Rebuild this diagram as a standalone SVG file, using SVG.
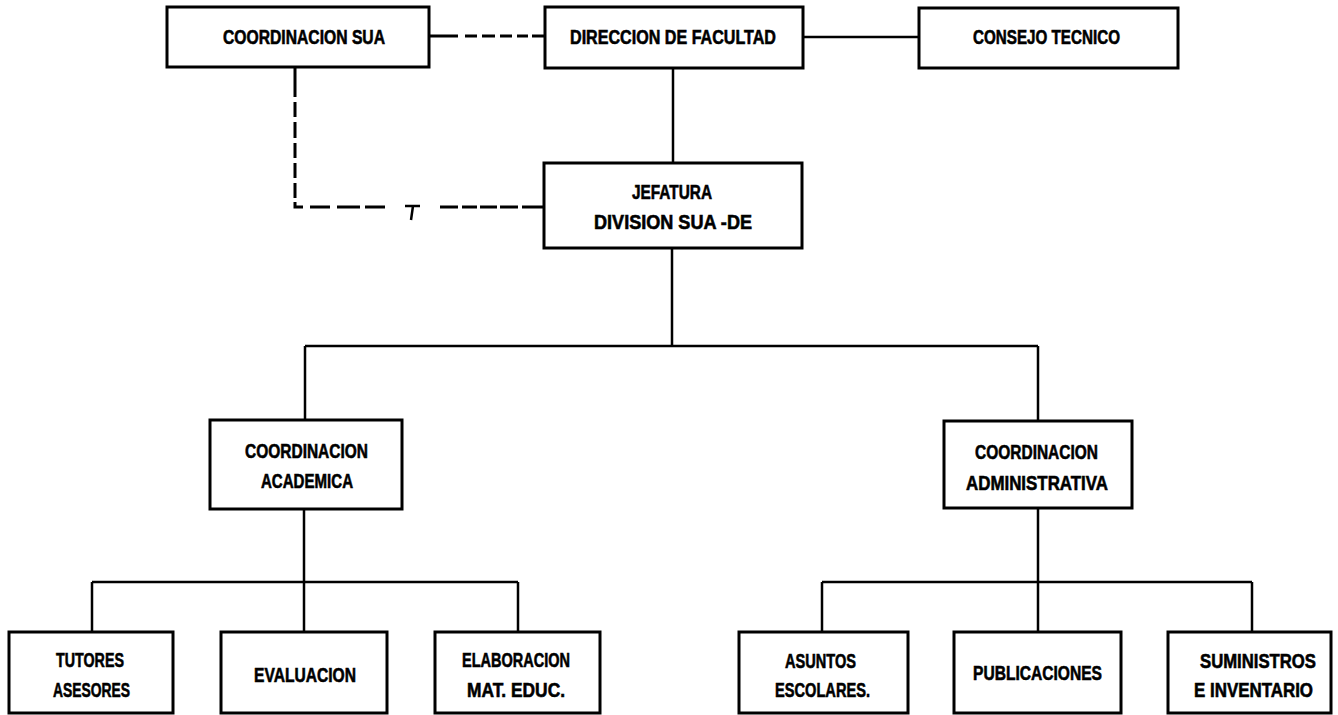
<svg xmlns="http://www.w3.org/2000/svg" width="1338" height="715" viewBox="0 0 1338 715">
<style>
  .box { fill: #fff; stroke: #000; stroke-width: 3; }
  .ln { fill: none; stroke: #000; stroke-width: 2.5; stroke-linecap: butt; }
  .dl { fill: none; stroke: #000; stroke-width: 3; stroke-linecap: butt; }
  text { font-family: "Liberation Sans", Arial, sans-serif; font-weight: bold; font-size: 20px; fill: #000; stroke: #000; stroke-width: 0.6; }
</style>
<rect width="1338" height="715" fill="#fff"/>
<g id="connectors">
  <path class="dl" d="M428,36 H458 M465,36 H477 M482,36 H495 M500,36 H512 M517,36 H528 M532,36 H545"/>
  <path class="ln" d="M803,37 H919"/>
  <path class="ln" d="M673,68 V163"/>
  <path class="dl" d="M295,67 V97 M295,102 V117 M295,122 V138 M295,143 V158 M295,163 V178 M295,183 V198 M295,202 V207 H303 M310,207 H330 M337,207 H360 M365,207 H385 M440,207 H458 M462,207 H477 M480,207 H497 M500,207 H518 M522,207 H543"/>
  <path class="ln" d="M405,206 H420 M413,206 L411,220" stroke-width="2"/>
  <path class="ln" d="M672,248 V346 M305,346 H1038 M305,346 V420 M1038,346 V421"/>
  <path class="ln" d="M304,509 V632 M92,582 H518 M92,582 V632 M518,582 V632"/>
  <path class="ln" d="M1038,508 V632 M822,582 H1252 M822,582 V632 M1252,582 V632"/>
</g>
<g id="coord-sua">
  <rect class="box" x="167" y="7" width="262" height="60"/>
  <text x="223" y="44" textLength="162" lengthAdjust="spacingAndGlyphs">COORDINACION SUA</text>
</g>
<g id="direccion">
  <rect class="box" x="545" y="7" width="258" height="61"/>
  <text x="570" y="44" textLength="206" lengthAdjust="spacingAndGlyphs">DIRECCION DE FACULTAD</text>
</g>
<g id="consejo">
  <rect class="box" x="919" y="8" width="259" height="60"/>
  <text x="973" y="44" textLength="147" lengthAdjust="spacingAndGlyphs">CONSEJO TECNICO</text>
</g>
<g id="jefatura">
  <rect class="box" x="544" y="163" width="258" height="85"/>
  <text x="632" y="199" textLength="80" lengthAdjust="spacingAndGlyphs">JEFATURA</text>
  <text x="594" y="229" textLength="158" lengthAdjust="spacingAndGlyphs">DIVISION SUA -DE</text>
</g>
<g id="coord-academica">
  <rect class="box" x="210" y="420" width="192" height="89"/>
  <text x="245" y="458" textLength="123" lengthAdjust="spacingAndGlyphs">COORDINACION</text>
  <text x="261" y="488" textLength="92" lengthAdjust="spacingAndGlyphs">ACADEMICA</text>
</g>
<g id="coord-administrativa">
  <rect class="box" x="944" y="421" width="188" height="87"/>
  <text x="975" y="459" textLength="123" lengthAdjust="spacingAndGlyphs">COORDINACION</text>
  <text x="966" y="490" textLength="142" lengthAdjust="spacingAndGlyphs">ADMINISTRATIVA</text>
</g>
<g id="tutores">
  <rect class="box" x="9" y="632" width="164" height="81"/>
  <text x="56" y="667" textLength="68" lengthAdjust="spacingAndGlyphs">TUTORES</text>
  <text x="53" y="697" textLength="77" lengthAdjust="spacingAndGlyphs">ASESORES</text>
</g>
<g id="evaluacion">
  <rect class="box" x="221" y="632" width="166" height="81"/>
  <text x="254" y="682" textLength="102" lengthAdjust="spacingAndGlyphs">EVALUACION</text>
</g>
<g id="elaboracion">
  <rect class="box" x="435" y="632" width="165" height="81"/>
  <text x="462" y="667" textLength="108" lengthAdjust="spacingAndGlyphs">ELABORACION</text>
  <text x="467" y="697" textLength="98" lengthAdjust="spacingAndGlyphs">MAT. EDUC.</text>
</g>
<g id="asuntos">
  <rect class="box" x="739" y="632" width="169" height="81"/>
  <text x="785" y="668" textLength="71" lengthAdjust="spacingAndGlyphs">ASUNTOS</text>
  <text x="775" y="697" textLength="95" lengthAdjust="spacingAndGlyphs">ESCOLARES.</text>
</g>
<g id="publicaciones">
  <rect class="box" x="954" y="632" width="167" height="81"/>
  <text x="973" y="680" textLength="129" lengthAdjust="spacingAndGlyphs">PUBLICACIONES</text>
</g>
<g id="suministros">
  <rect class="box" x="1168" y="632" width="163" height="81"/>
  <text x="1200" y="668" textLength="116" lengthAdjust="spacingAndGlyphs">SUMINISTROS</text>
  <text x="1194" y="697" textLength="119" lengthAdjust="spacingAndGlyphs">E INVENTARIO</text>
</g>
</svg>
